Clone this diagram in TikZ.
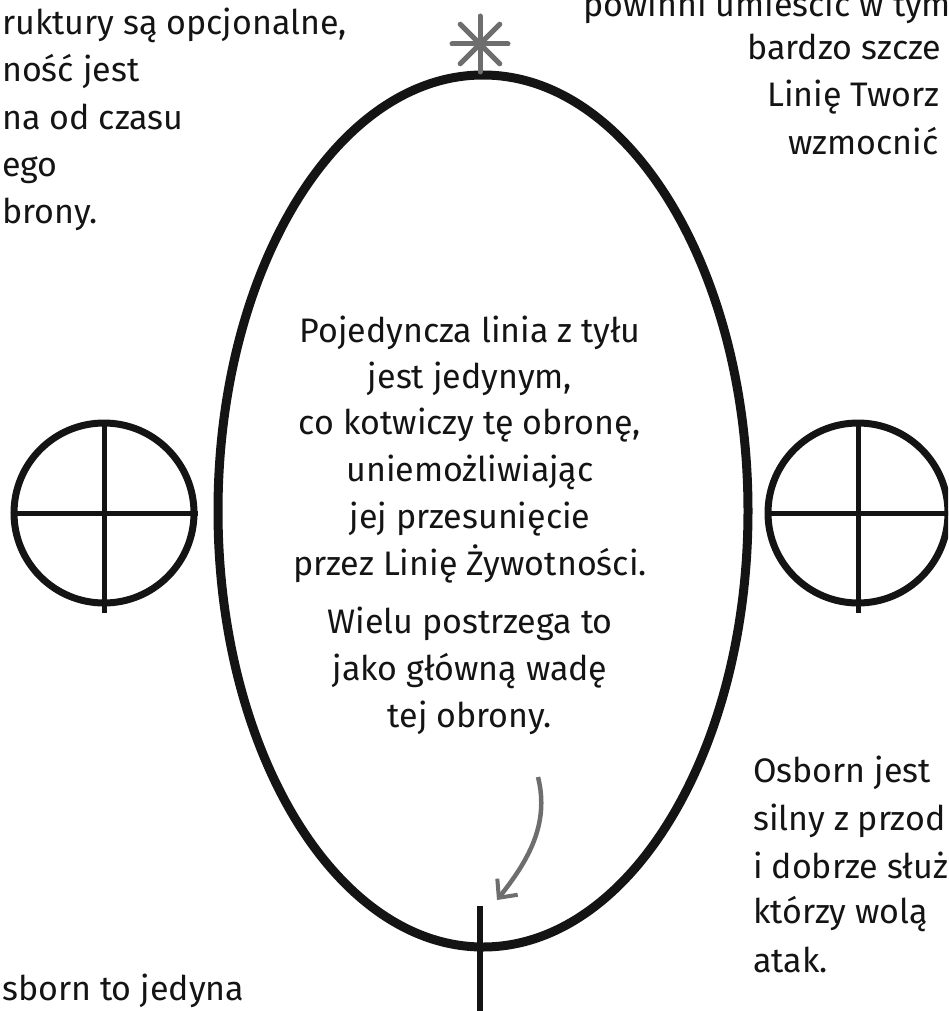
\documentclass[tikz,border=0pt]{standalone}
\usepackage{fontspec}
\setmainfont{Fira Sans}
\usetikzlibrary{arrows.meta,positioning,shapes.geometric}
\definecolor{penBlack}{RGB}{20,20,20}
\definecolor{pencilGray}{RGB}{110,110,110}
\tikzset{
  frame oval/.style={ellipse,draw=penBlack,line width=9pt,minimum width=530pt,minimum height=872pt,inner sep=0pt},
  wheel/.style={circle,draw=penBlack,line width=7pt,minimum size=180pt,inner sep=0pt},
  wheel spoke/.style={draw=penBlack,line width=5pt},
  anchor line/.style={draw=penBlack,line width=6pt},
  note line/.style={font=\fontsize{34}{46}\selectfont,text=penBlack,inner sep=0pt},
  pointer arrow/.style={-{Straight Barb[length=14pt,width=26pt,line width=4pt]},line width=4.5pt,draw=pencilGray},
  spark/.style={draw=pencilGray,line width=5pt,line cap=round}
}
\begin{document}
\begin{tikzpicture}[x=1pt,y=-1pt]
        \useasboundingbox (0,0) rectangle (948,1011);
        \clip (0,0) rectangle (948,1011);
        % main oval with the marks on it
        \node[frame oval] (frame) at (483,511) {};
        \coordinate (star) at (480,44);
        \foreach \a in {0,45,...,315} \draw[spark] (star) -- +(\a:28);
        \coordinate (anchor top) at (480,906);
        \coordinate (anchor foot) at (480,1015);
        \draw[anchor line] (anchor top) -- (anchor foot);
        \coordinate (hint start) at (538,777);
        \coordinate (hint tip) at (497,900);
        \draw[pointer arrow] (hint start) .. controls (550,825) and (527,862) .. (hint tip);
        % the two side wheels
        \node[wheel] (left wheel) at (104,513) {};
        \draw[wheel spoke] (left wheel.north) -- ([yshift=-6pt]left wheel.south);
        \draw[wheel spoke] (left wheel.west) -- (left wheel.east);
        \node[wheel] (right wheel) at (858,513) {};
        \draw[wheel spoke] (right wheel.north) -- ([yshift=-6pt]right wheel.south);
        \draw[wheel spoke] (right wheel.west) -- (right wheel.east);
        % text inside the oval
        \node[note line,anchor=base] (c1) at (470,342) {Pojedyncza linia z tyłu};
        \node[note line,anchor=base] (c2) at (470,388) {jest jedynym,};
        \node[note line,anchor=base] (c3) at (470,434) {co kotwiczy tę obronę,};
        \node[note line,anchor=base] (c4) at (470,481) {uniemożliwiając};
        \node[note line,anchor=base] (c5) at (470,528) {jej przesunięcie};
        \node[note line,anchor=base] (c6) at (470,575) {przez Linię Żywotności.};
        \node[note line,anchor=base] (c7) at (470,633) {Wielu postrzega to};
        \node[note line,anchor=base] (c8) at (470,680) {jako główną wadę};
        \node[note line,anchor=base] (c9) at (470,727) {tej obrony.};
        % cut-off notes round the edges
        \node[note line,anchor=base west] (l1) at (2,35) {ruktury są opcjonalne,};
        \node[note line,anchor=base west] (l2) at (2,82) {ność jest};
        \node[note line,anchor=base west] (l3) at (2,130) {na od czasu};
        \node[note line,anchor=base west] (l4) at (2,177) {ego};
        \node[note line,anchor=base west] (l5) at (2,223) {brony.};
        \node[note line,anchor=base west] (r1) at (583,17) {powinni umieścić w tym};
        \node[note line,anchor=base west] (r2) at (747,60) {bardzo szcze};
        \node[note line,anchor=base west] (r3) at (767,107) {Linię Tworz};
        \node[note line,anchor=base west] (r4) at (788,155) {wzmocnić};
        \node[note line,anchor=base west] (b1) at (753,782) {Osborn jest};
        \node[note line,anchor=base west] (b2) at (753,830) {silny z przod};
        \node[note line,anchor=base west] (b3) at (753,878) {i dobrze służ};
        \node[note line,anchor=base west] (b4) at (753,923) {którzy wolą};
        \node[note line,anchor=base west] (b5) at (753,972) {atak.};
        \node[note line,anchor=base west] (f1) at (2,1000) {sborn to jedyna};
      \end{tikzpicture}
\end{document}
